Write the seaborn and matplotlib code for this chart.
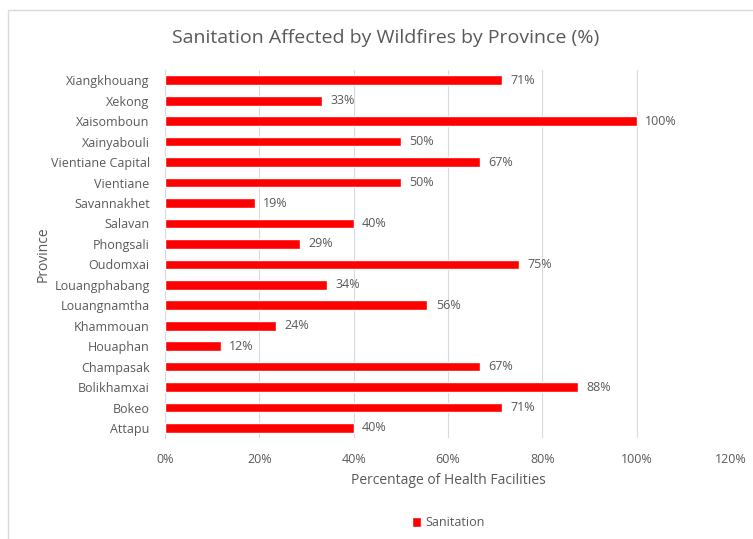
import matplotlib
matplotlib.use("Agg")
import matplotlib.pyplot as plt
import pandas as pd
import seaborn as sns
from matplotlib.patches import Rectangle

provinces = ["Xiangkhouang", "Xekong", "Xaisomboun", "Xainyabouli", "Vientiane Capital",
             "Vientiane", "Savannakhet", "Salavan", "Phongsali", "Oudomxai",
             "Louangphabang", "Louangnamtha", "Khammouan", "Houaphan", "Champasak",
             "Bolikhamxai", "Bokeo", "Attapu"]
sanitation = [71.4, 33.3, 100.0, 50.0, 66.7, 50.0, 19.0, 40.0, 28.6, 75.0,
              34.3, 55.6, 23.5, 11.8, 66.7, 87.5, 71.4, 40.0]

df = pd.DataFrame({"Province": provinces, "Sanitation": sanitation})

sns.set_style("white")
plt.rcParams["font.family"] = ["Open Sans", "DejaVu Sans"]
grey = "#595959"

fig = plt.figure(figsize=(7.53, 5.39), dpi=100)
ax = fig.add_axes([0.219, 0.187, 0.752, 0.683])

sns.barplot(data=df, y="Province", x="Sanitation", color="#ff0000", width=0.47,
            saturation=1, ax=ax, label="Sanitation", zorder=3)

for i, v in enumerate(sanitation):
    ax.text(v + 1.8, i, f"{round(v)}%", va="center", ha="left", fontsize=9, color=grey)

ax.set_xlim(0, 120)
ax.set_xticks(range(0, 121, 20))
ax.set_xticklabels([f"{t}%" for t in range(0, 121, 20)])
ax.xaxis.grid(True, color="#d9d9d9", linewidth=0.8, zorder=0)
ax.tick_params(axis="y", length=0, labelsize=9, labelcolor=grey, pad=11)
ax.tick_params(axis="x", length=0, labelsize=9, labelcolor=grey, pad=11)
for s in ["top", "right", "bottom"]:
    ax.spines[s].set_visible(False)
ax.spines["left"].set_color("#d9d9d9")

ax.set_xlabel("Percentage of Health Facilities", fontsize=10, color=grey, labelpad=5)
ax.set_ylabel("Province", fontsize=10, color=grey, labelpad=0)
fig.text(386 / 753, 1 - 38 / 539, "Sanitation Affected by Wildfires by Province (%)",
         fontsize=14, color=grey, ha="center", va="center")

ax.legend(loc="center", bbox_to_anchor=(0.5, -0.23), frameon=False, fontsize=9,
          handlelength=0.75, handleheight=0.75, handletextpad=0.3, labelcolor=grey)

fig.patches.append(Rectangle((8 / 753, -0.1), 1.2, 1 - 10 / 539 + 0.1, transform=fig.transFigure,
                             fill=False, edgecolor="#d9d9d9", linewidth=1))

fig.savefig("out.png", dpi=100)
